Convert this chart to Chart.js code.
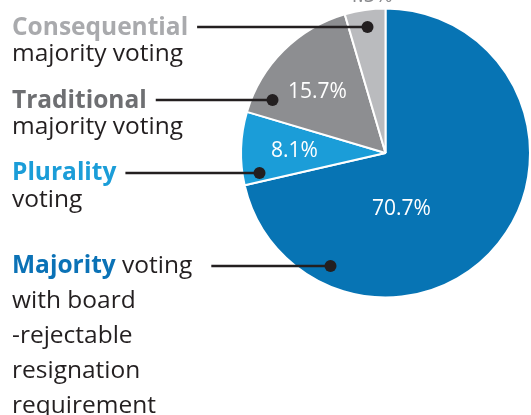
<!DOCTYPE html>
<html><head><meta charset="utf-8">
<script src="https://cdn.jsdelivr.net/npm/chart.js@4/dist/chart.umd.min.js"></script>
<style>html,body{margin:0;padding:0;background:#fff;}canvas{display:block;}</style>
</head><body>
<canvas id="c" width="531" height="415"></canvas>
<script>
// ---- data ----
const categories = ['Majority voting with board-rejectable resignation requirement', 'Plurality voting', 'Traditional majority voting', 'Consequential majority voting'];
const shares = [70.7, 8.1, 15.7, 4.5];
const valueLabels = ['70.7%', '8.1%', '15.7%', '4.5%'];
const boldWords = ['Majority', 'Plurality', 'Traditional', 'Consequential'];
const firstLineRest = [' voting', '', '', ''];
const extraLines = [['with board', '-rejectable', 'resignation', 'requirement'], ['voting'], ['majority voting'], ['majority voting']];
const sliceColors = ['#0774b4', '#1b9dd8', '#8d8e91', '#babbbe'];
const boldColors = ['#0b72b6', '#1b9dd8', '#6e6f72', '#a9aaad'];

// ---- layout (styling only) ----
const calloutY = [266, 173, 100, 27];
const dotDX = [-55, -126, -113, -18];
const titleBase = [273, 180, 108, 35];
const lineGap = [35, 27, 26, 26];
const startGap = [19, 9, 9, 9];
const valuePos = [[16, 56, 'w'], [-91, -2, 'w'], [-68, -61, 'w'], [-16, -157, 'g']];
const FONT = '"Open Sans"';

const annot = {
  id: 'annot',
  afterDraw(chart) {
    const ctx = chart.ctx;
    const arcs = chart.getDatasetMeta(0).data;
    const cx = arcs[0].x, cy = arcs[0].y;
    ctx.save();
    ctx.font = '21px ' + FONT;
    ctx.textAlign = 'center';
    ctx.textBaseline = 'middle';
    valueLabels.forEach((t, i) => {
      const p = valuePos[i];
      ctx.fillStyle = p[2] === 'w' ? '#ffffff' : '#8a8b8e';
      ctx.fillText(t, cx + p[0], cy + p[1]);
    });
    ctx.textAlign = 'left';
    ctx.textBaseline = 'alphabetic';
    const fs = 24.5;
    boldWords.forEach((b, i) => {
      const x0 = 12;
      ctx.font = 'bold ' + fs + 'px ' + FONT;
      ctx.fillStyle = boldColors[i];
      ctx.fillText(b, x0, titleBase[i]);
      let w = ctx.measureText(b).width;
      ctx.font = fs + 'px ' + FONT;
      ctx.fillStyle = '#231f20';
      if (firstLineRest[i]) {
        ctx.fillText(firstLineRest[i], x0 + w, titleBase[i]);
        w += ctx.measureText(firstLineRest[i]).width;
      }
      extraLines[i].forEach((l, k) => ctx.fillText(l, x0, titleBase[i] + lineGap[i] * (k + 1)));
      const y = calloutY[i];
      const dotX = cx + dotDX[i];
      ctx.strokeStyle = '#231f20';
      ctx.lineWidth = 2.5;
      ctx.beginPath();
      ctx.moveTo(x0 + w + startGap[i], y);
      ctx.lineTo(dotX, y);
      ctx.stroke();
      ctx.fillStyle = '#231f20';
      ctx.beginPath();
      ctx.arc(dotX, y, 6, 0, Math.PI * 2);
      ctx.fill();
    });
    ctx.restore();
  }
};

new Chart(document.getElementById('c'), {
  type: 'pie',
  data: {
    labels: categories,
    datasets: [{ data: shares, backgroundColor: sliceColors, borderColor: '#ffffff', borderWidth: 2 }]
  },
  options: {
    responsive: false,
    animation: false,
    rotation: 0,
    layout: { padding: { left: 240, right: 0, top: 7, bottom: 116 } },
    plugins: { legend: { display: false }, tooltip: { enabled: false } }
  },
  plugins: [annot]
});
</script>
</body></html>
